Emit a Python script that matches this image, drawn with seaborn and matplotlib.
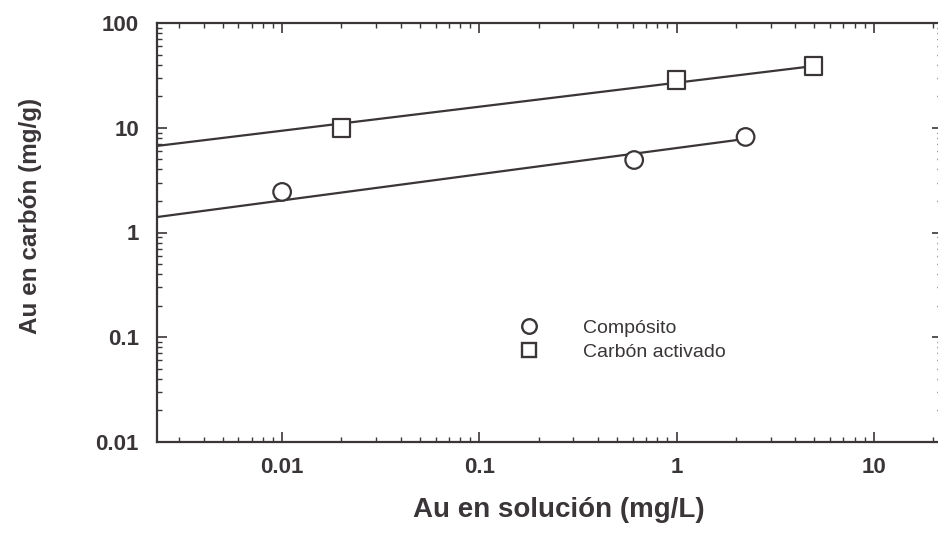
import numpy as np
import pandas as pd
import matplotlib
matplotlib.use("Agg")
import matplotlib.pyplot as plt
import seaborn as sns
from matplotlib.lines import Line2D
from matplotlib.ticker import LogLocator, NullFormatter, FixedLocator, FixedFormatter

# --- datos ---
comp_x = [0.01, 0.61, 2.24]
comp_y = [2.44, 4.92, 8.17]
carb_x = [0.020, 1.0, 4.95]
carb_y = [9.95, 28.6, 38.9]

# ajuste de Freundlich (K, 1/n) de cada recta
comp_fit = (6.4, 0.250)
carb_fit = (26.9, 0.229)

labels = ["Compósito", "Carbón activado"]
x_ticks = [0.01, 0.1, 1, 10]
x_ticklabels = ["0.01", "0.1", "1", "10"]
y_ticks = [0.01, 0.1, 1, 10, 100]
y_ticklabels = ["0.01", "0.1", "1", "10", "100"]

X_LIM = (0.00232, 22.2)
Y_LIM = (0.01, 100)
INK = "#3a3538"

sns.set_style("ticks")
plt.rcParams["font.family"] = ["Liberation Sans", "DejaVu Sans"]

df = pd.DataFrame({
    "x": comp_x + carb_x,
    "y": comp_y + carb_y,
    "Material": [labels[0]] * len(comp_x) + [labels[1]] * len(carb_x),
})

# rectas de ajuste desde el borde izquierdo hasta el ultimo punto
fit_rows = []
for name, xs, (K, inv_n) in [(labels[0], comp_x, comp_fit), (labels[1], carb_x, carb_fit)]:
    for xv in [X_LIM[0], max(xs)]:
        fit_rows.append({"x": xv, "y": K * xv ** inv_n, "Material": name})
df_fit = pd.DataFrame(fit_rows)

fig = plt.figure(figsize=(9.38, 5.34), dpi=100)
# el eje derecho queda justo fuera del borde, como en el escaneo
ax = fig.add_axes([157 / 938, 92 / 534, 785 / 938, 419 / 534])

sns.lineplot(data=df_fit, x="x", y="y", units="Material", estimator=None,
             color=INK, linewidth=1.6, legend=False, ax=ax)
sns.scatterplot(data=df, x="x", y="y", style="Material",
                markers={labels[0]: "o", labels[1]: "s"}, s=160,
                facecolor="white", edgecolor=INK, linewidth=1.6,
                legend=False, ax=ax, zorder=3)

ax.set_xscale("log")
ax.set_yscale("log")
ax.set_xlim(*X_LIM)
ax.set_ylim(*Y_LIM)

ax.xaxis.set_major_locator(FixedLocator(x_ticks))
ax.xaxis.set_major_formatter(FixedFormatter(x_ticklabels))
ax.yaxis.set_major_locator(FixedLocator(y_ticks))
ax.yaxis.set_major_formatter(FixedFormatter(y_ticklabels))
for axis in (ax.xaxis, ax.yaxis):
    axis.set_minor_locator(LogLocator(base=10, subs=np.arange(2, 10), numticks=20))
    axis.set_minor_formatter(NullFormatter())

ax.tick_params(which="both", direction="in", top=True, right=True, colors=INK)
ax.tick_params(which="major", length=7, width=1.2)
ax.tick_params(which="minor", length=3.5, width=1.0)
ax.tick_params(axis="x", which="major", pad=11, labelsize=16)
ax.tick_params(axis="y", which="major", pad=13, labelsize=16)
for lab in ax.get_xticklabels() + ax.get_yticklabels():
    lab.set_fontweight("bold")
    lab.set_color(INK)

for sp in ax.spines.values():
    sp.set_linewidth(1.6)
    sp.set_color(INK)

ax.set_xlabel("Au en solución (mg/L)", fontsize=20, fontweight="bold", color=INK)
ax.set_ylabel("Au en carbón (mg/g)", fontsize=17.5, fontweight="bold", color=INK)
ax.xaxis.set_label_coords(0.512, -0.131)
ax.yaxis.set_label_coords(-0.146, 0.54)

handles = [
    Line2D([], [], marker="o", linestyle="none", markersize=10.5,
           markerfacecolor="white", markeredgecolor=INK, markeredgewidth=1.7),
    Line2D([], [], marker="s", linestyle="none", markersize=10,
           markerfacecolor="white", markeredgecolor=INK, markeredgewidth=1.7),
]
leg = ax.legend(handles, labels, loc="center left", bbox_to_anchor=(0.461, 0.243),
                frameon=False, fontsize=14, handlelength=1.0, handletextpad=2.3,
                labelspacing=0.3, borderpad=0, borderaxespad=0)
for t in leg.get_texts():
    t.set_color(INK)

fig.savefig("out.png", dpi=100)
